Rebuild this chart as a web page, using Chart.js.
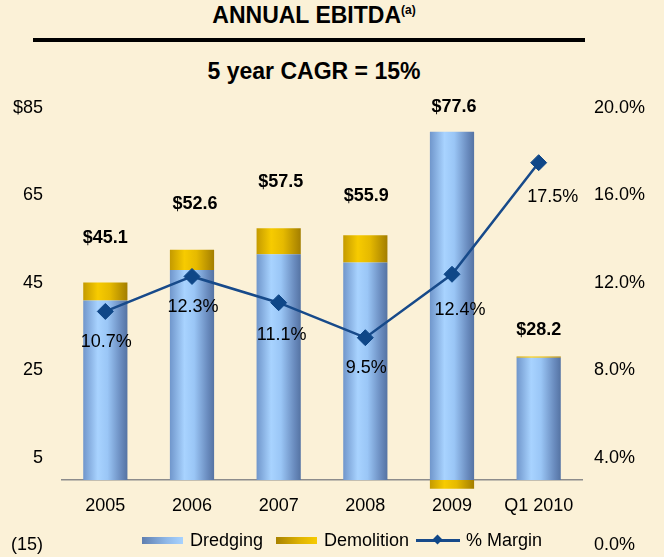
<!DOCTYPE html>
<html>
<head>
<meta charset="utf-8">
<script src="https://cdn.jsdelivr.net/npm/chart.js@4.4.0/dist/chart.umd.min.js"></script>
<style>
  html, body { margin: 0; padding: 0; }
  body {
    width: 664px; height: 557px; position: relative; overflow: hidden;
    background: #fbf1d7;
    font-family: "Liberation Sans", Arial, sans-serif; color: #000;
  }
  #chart { position: absolute; left: 0; top: 0; }
  .title, .subtitle {
    position: absolute; left: 0; width: 628px; text-align: center;
    font-weight: bold; font-size: 23px; line-height: 26px;
  }
  .title { top: 2px; }
  .title sup { font-size: 12px; line-height: 0; vertical-align: 9px; }
  .subtitle { top: 58px; }
  .rule { position: absolute; left: 33px; top: 38px; width: 552px; height: 4px; background: #000; }
  .lg { position: absolute; font-size: 18px; line-height: 20px; top: 530px; white-space: nowrap; }
  .sw { position: absolute; top: 537px; width: 41px; height: 7px; }
  .sw.blue { left: 142px; background: linear-gradient(90deg, #5f7fb0, #8fb8e8 60%, #a8d3ff); }
  .sw.gold { left: 276px; background: linear-gradient(90deg, #a88200, #e0b400 60%, #f7cb00); }
  .ln { position: absolute; left: 416px; top: 539px; width: 44px; height: 3px; background: #174a8a; }
  .dm { position: absolute; left: 434px; top: 536px; width: 7px; height: 7px; background: #0f4788; transform: rotate(45deg); }
</style>
</head>
<body>
<div class="title">ANNUAL EBITDA<sup>(a)</sup></div>
<div class="rule"></div>
<div class="subtitle">5 year CAGR = 15%</div>
<canvas id="chart" width="664" height="557"></canvas>
<div class="sw blue"></div><div class="lg" style="left:190px">Dredging</div>
<div class="sw gold"></div><div class="lg" style="left:324px">Demolition</div>
<div class="ln"></div><div class="dm"></div><div class="lg" style="left:466px">% Margin</div>
<script>
// data
const categories = ['2005', '2006', '2007', '2008', '2009', 'Q1 2010'];
const dredging = [41.0, 48.0, 51.6, 49.7, 79.6, 27.9];
const demolition = [4.1, 4.6, 5.9, 6.2, -2.0, 0.3];
const margin = [10.7, 12.3, 11.1, 9.5, 12.4, 17.5];
const leftTicks = [-15, 5, 25, 45, 65, 85];
const leftTickLabels = ['(15)', '5', '25', '45', '65', '$85'];
const rightTicks = [0, 4, 8, 12, 16, 20];
const rightTickLabels = ['0.0%', '4.0%', '8.0%', '12.0%', '16.0%', '20.0%'];

const BAR_PCT = 0.51;
const FONT = '"Liberation Sans", Arial, sans-serif';

// cylinder look: horizontal gradient across each bar
function barFill(stops) {
    return ctx => {
        const chart = ctx.chart;
        const xs = chart.scales && chart.scales.x;
        if (!xs || ctx.type !== 'data') return stops[1][1];
        const cx = xs.getPixelForValue(ctx.dataIndex);
        const half = xs.width / categories.length * BAR_PCT / 2;
        if (!isFinite(cx) || !isFinite(half) || half <= 0) return stops[1][1];
        const g = chart.ctx.createLinearGradient(cx - half, 0, cx + half, 0);
        stops.forEach(s => g.addColorStop(s[0], s[1]));
        return g;
    };
}
const blueStops = [[0, '#7096cb'], [0.33, '#a8d3ff'], [0.55, '#9ac6f6'], [0.85, '#6a8cbf'], [1, '#5573a3']];
const goldStops = [[0, '#c49a00'], [0.33, '#f7cb00'], [0.6, '#e6ba00'], [1, '#a37e00']];

// label nudges (pixels)
const totalLift = [45, 46, 46, 39, 25, 26];
const totalShift = [0, 3, 2, 1, 2, 0];
const pctNudge = [[1, 31], [1, 31], [3, 32], [1, 30], [8, 36], [14, 34]];

const labelPlugin = {
    id: 'labels',
    afterDatasetsDraw(chart) {
        const c = chart.ctx;
        const xs = chart.scales.x, ys = chart.scales.y, y1 = chart.scales.y1;
        c.save();
        c.fillStyle = '#000';
        c.textAlign = 'center';
        c.textBaseline = 'middle';
        categories.forEach((cat, i) => {
            const x = xs.getPixelForValue(i);
            const top = Math.max(dredging[i], 0) + Math.max(demolition[i], 0);
            const total = dredging[i] + demolition[i];
            c.font = 'bold 18px ' + FONT;
            c.fillText('$' + total.toFixed(1), x + totalShift[i], ys.getPixelForValue(top) - totalLift[i]);
            c.font = '18px ' + FONT;
            c.fillText(margin[i].toFixed(1) + '%', x + pctNudge[i][0], y1.getPixelForValue(margin[i]) + pctNudge[i][1]);
        });
        c.restore();
    }
};

// fixed axis width, and no extra label padding eating into the plot height
function fixAxis(width) {
    return s => { s.width = width; s.paddingTop = 0; s.paddingBottom = 0; };
}

new Chart(document.getElementById('chart'), {
    type: 'bar',
    data: {
        labels: categories,
        datasets: [
            {
                type: 'line', label: '% Margin', data: margin, yAxisID: 'y1', order: 0,
                borderColor: '#174a8a', borderWidth: 2.5,
                pointStyle: 'rectRot', pointRadius: 8,
                pointBackgroundColor: '#0f4788', pointBorderColor: '#0f4788', pointBorderWidth: 1
            },
            { label: 'Dredging', data: dredging, yAxisID: 'y', order: 1, backgroundColor: barFill(blueStops) },
            { label: 'Demolition', data: demolition, yAxisID: 'y', order: 1, backgroundColor: barFill(goldStops) }
        ]
    },
    options: {
        responsive: false,
        animation: false,
        events: [],
        datasets: { bar: { categoryPercentage: 1, barPercentage: BAR_PCT } },
        layout: { padding: { top: 108, bottom: 11.5, left: 0, right: 0 } },
        plugins: { legend: { display: false }, tooltip: { enabled: false } },
        scales: {
            x: {
                stacked: true,
                position: { y: 0 },
                grid: { display: false, drawTicks: false },
                border: { display: true, color: '#8c8c8c', width: 1.5 },
                afterFit: s => { s.height = 0; },
                ticks: { color: '#000', font: { family: FONT, size: 18 }, padding: 15, maxRotation: 0 }
            },
            y: {
                stacked: true, position: 'left', min: -15, max: 85,
                grid: { display: false, drawTicks: false },
                border: { display: false },
                afterBuildTicks: s => { s.ticks = leftTicks.map(v => ({ value: v })); },
                afterFit: fixAxis(62),
                ticks: { color: '#000', font: { family: FONT, size: 18 }, padding: 19, callback: (v, i) => leftTickLabels[i] }
            },
            y1: {
                position: 'right', min: 0, max: 20,
                grid: { display: false, drawTicks: false },
                border: { display: false },
                afterBuildTicks: s => { s.ticks = rightTicks.map(v => ({ value: v })); },
                afterFit: fixAxis(82),
                ticks: { color: '#000', font: { family: FONT, size: 18 }, padding: 12, callback: (v, i) => rightTickLabels[i] }
            }
        }
    },
    plugins: [labelPlugin]
});
</script>
</body>
</html>
